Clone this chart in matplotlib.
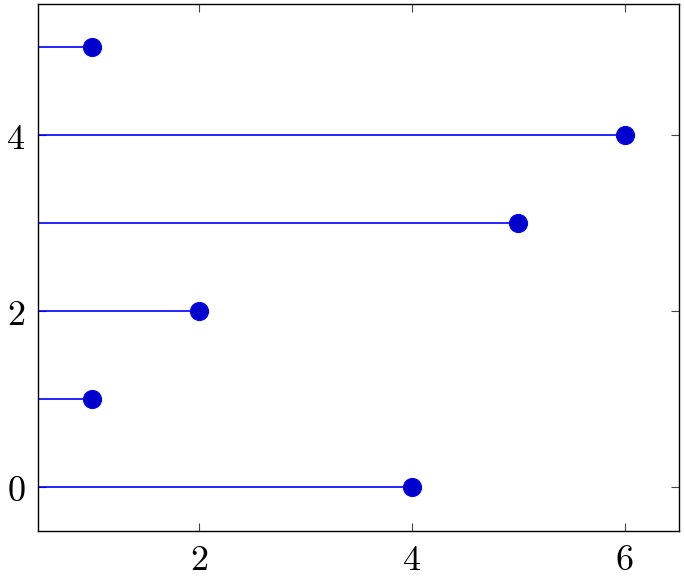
import matplotlib
matplotlib.use("Agg")
import matplotlib.pyplot as plt

y_values = [0, 1, 2, 3, 4, 5]
x_values = [4, 1, 2, 5, 6, 1]
x_ticks = [2, 4, 6]
y_ticks = [0, 2, 4]

plt.rcParams['mathtext.fontset'] = 'cm'

fig = plt.figure(figsize=(6.84, 5.78), dpi=100)
ax = fig.add_axes([38/684, 1 - 531/578, (679-38)/684, (531-4)/578])

for y, x in zip(y_values, x_values):
    ax.plot([0, x], [y, y], color='#0000ff', lw=1.2, solid_capstyle='butt', zorder=2)
ax.plot(x_values, y_values, 'o', ls='none', markersize=13, markerfacecolor='#0000cc',
        markeredgecolor='#0000ff', markeredgewidth=0.8, zorder=3)

ax.set_xlim(0.49, 6.51)
ax.set_ylim(-0.5, 5.49)
ax.set_xticks(x_ticks)
ax.set_yticks(y_ticks)
ax.set_xticklabels([f'${t}$' for t in x_ticks], fontsize=26)
ax.set_yticklabels([f'${t}$' for t in y_ticks], fontsize=26)
ax.tick_params(direction='in', length=6, width=0.8, color='#444444', top=True, right=True)
ax.tick_params(axis='x', pad=9)
ax.tick_params(axis='y', pad=9)
for s in ax.spines.values():
    s.set_linewidth(1.0)

fig.savefig('out.png', dpi=100)
